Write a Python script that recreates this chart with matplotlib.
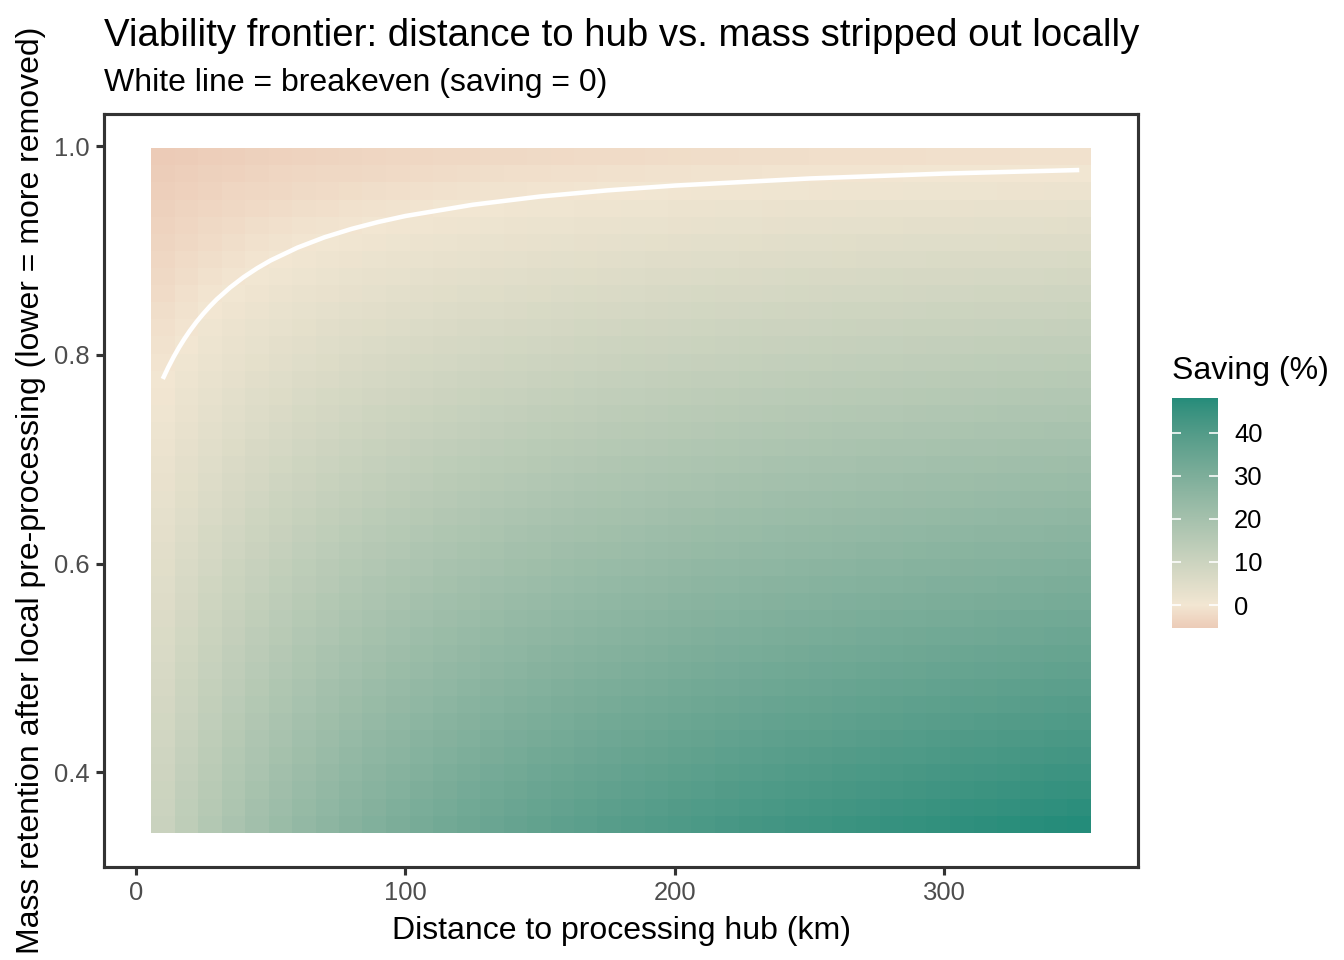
import numpy as np
import matplotlib
matplotlib.use("Agg")
import matplotlib.pyplot as plt
from matplotlib.colors import ListedColormap, Normalize

plt.rcParams['font.family'] = ['Liberation Sans', 'DejaVu Sans']

# --- data ---
distance_km = [10.0, 18.72, 27.44, 36.15, 44.87, 53.59, 62.31, 71.03, 79.74, 88.46,
               97.18, 105.9, 114.62, 123.33, 132.05, 140.77, 149.49, 158.21, 166.92, 175.64,
               184.36, 193.08, 201.79, 210.51, 219.23, 227.95, 236.67, 245.38, 254.1, 262.82,
               271.54, 280.26, 288.97, 297.69, 306.41, 315.13, 323.85, 332.56, 341.28, 350.0]

retention = [0.35, 0.3664, 0.3828, 0.3992, 0.4156, 0.4321, 0.4485, 0.4649, 0.4813, 0.4977,
             0.5141, 0.5305, 0.5469, 0.5633, 0.5797, 0.5962, 0.6126, 0.629, 0.6454, 0.6618,
             0.6782, 0.6946, 0.711, 0.7274, 0.7438, 0.7603, 0.7767, 0.7931, 0.8095, 0.8259,
             0.8423, 0.8587, 0.8751, 0.8915, 0.9079, 0.9244, 0.9408, 0.9572, 0.9736, 0.99]

# saving (%) : one row per distance, values from lowest to highest retention
saving_pct = [
    [10.6, 10.2, 9.8, 9.4, 9.0, 8.6, 8.2, 7.8, 7.4, 7.0, 6.5, 6.1, 5.7, 5.3, 4.9, 4.5, 4.1, 3.7, 3.3, 2.9, 2.5, 2.0, 1.6, 1.2, 0.8, 0.4, 0.0, -0.4, -0.8, -1.2, -1.6, -2.0, -2.4, -2.9, -3.3, -3.7, -4.1, -4.5, -4.9, -5.3],
    [13.5, 13.1, 12.6, 12.1, 11.6, 11.2, 10.7, 10.2, 9.7, 9.3, 8.8, 8.3, 7.8, 7.4, 6.9, 6.4, 5.9, 5.5, 5.0, 4.5, 4.0, 3.6, 3.1, 2.6, 2.1, 1.7, 1.2, 0.7, 0.2, -0.2, -0.7, -1.2, -1.7, -2.1, -2.6, -3.1, -3.5, -4.0, -4.5, -5.0],
    [16.2, 15.6, 15.1, 14.5, 14.0, 13.5, 12.9, 12.4, 11.9, 11.3, 10.8, 10.3, 9.7, 9.2, 8.7, 8.1, 7.6, 7.1, 6.5, 6.0, 5.5, 4.9, 4.4, 3.9, 3.3, 2.8, 2.3, 1.7, 1.2, 0.7, 0.1, -0.4, -0.9, -1.5, -2.0, -2.5, -3.1, -3.6, -4.1, -4.7],
    [18.5, 17.9, 17.3, 16.7, 16.2, 15.6, 15.0, 14.4, 13.8, 13.2, 12.6, 12.0, 11.5, 10.9, 10.3, 9.7, 9.1, 8.5, 7.9, 7.3, 6.8, 6.2, 5.6, 5.0, 4.4, 3.8, 3.2, 2.7, 2.1, 1.5, 0.9, 0.3, -0.3, -0.9, -1.5, -2.0, -2.6, -3.2, -3.8, -4.4],
    [20.6, 20.0, 19.4, 18.7, 18.1, 17.5, 16.8, 16.2, 15.6, 14.9, 14.3, 13.7, 13.0, 12.4, 11.7, 11.1, 10.5, 9.8, 9.2, 8.6, 7.9, 7.3, 6.7, 6.0, 5.4, 4.8, 4.1, 3.5, 2.8, 2.2, 1.6, 0.9, 0.3, -0.3, -1.0, -1.6, -2.2, -2.9, -3.5, -4.1],
    [22.6, 21.9, 21.2, 20.6, 19.9, 19.2, 18.5, 17.8, 17.2, 16.5, 15.8, 15.1, 14.4, 13.8, 13.1, 12.4, 11.7, 11.0, 10.4, 9.7, 9.0, 8.3, 7.6, 7.0, 6.3, 5.6, 4.9, 4.2, 3.6, 2.9, 2.2, 1.5, 0.8, 0.2, -0.5, -1.2, -1.9, -2.6, -3.2, -3.9],
    [24.4, 23.7, 22.9, 22.2, 21.5, 20.8, 20.1, 19.3, 18.6, 17.9, 17.2, 16.5, 15.7, 15.0, 14.3, 13.6, 12.9, 12.1, 11.4, 10.7, 10.0, 9.3, 8.5, 7.8, 7.1, 6.4, 5.7, 4.9, 4.2, 3.5, 2.8, 2.0, 1.3, 0.6, -0.1, -0.8, -1.6, -2.3, -3.0, -3.7],
    [26.0, 25.3, 24.5, 23.8, 23.0, 22.2, 21.5, 20.7, 20.0, 19.2, 18.5, 17.7, 16.9, 16.2, 15.4, 14.7, 13.9, 13.1, 12.4, 11.6, 10.9, 10.1, 9.4, 8.6, 7.8, 7.1, 6.3, 5.6, 4.8, 4.1, 3.3, 2.5, 1.8, 1.0, 0.3, -0.5, -1.3, -2.0, -2.8, -3.5],
    [27.5, 26.8, 26.0, 25.2, 24.4, 23.6, 22.8, 22.0, 21.2, 20.4, 19.6, 18.8, 18.0, 17.2, 16.5, 15.7, 14.9, 14.1, 13.3, 12.5, 11.7, 10.9, 10.1, 9.3, 8.5, 7.7, 6.9, 6.2, 5.4, 4.6, 3.8, 3.0, 2.2, 1.4, 0.6, -0.2, -1.0, -1.8, -2.6, -3.3],
    [28.9, 28.1, 27.3, 26.5, 25.7, 24.8, 24.0, 23.2, 22.4, 21.5, 20.7, 19.9, 19.1, 18.2, 17.4, 16.6, 15.8, 14.9, 14.1, 13.3, 12.5, 11.6, 10.8, 10.0, 9.2, 8.4, 7.5, 6.7, 5.9, 5.1, 4.2, 3.4, 2.6, 1.8, 0.9, 0.1, -0.7, -1.5, -2.4, -3.2],
    [30.2, 29.4, 28.5, 27.7, 26.8, 26.0, 25.1, 24.3, 23.4, 22.6, 21.7, 20.9, 20.0, 19.2, 18.3, 17.4, 16.6, 15.7, 14.9, 14.0, 13.2, 12.3, 11.5, 10.6, 9.8, 8.9, 8.1, 7.2, 6.4, 5.5, 4.6, 3.8, 2.9, 2.1, 1.2, 0.4, -0.5, -1.3, -2.2, -3.0],
    [31.5, 30.6, 29.7, 28.8, 27.9, 27.1, 26.2, 25.3, 24.4, 23.5, 22.6, 21.8, 20.9, 20.0, 19.1, 18.2, 17.4, 16.5, 15.6, 14.7, 13.8, 13.0, 12.1, 11.2, 10.3, 9.4, 8.6, 7.7, 6.8, 5.9, 5.0, 4.2, 3.3, 2.4, 1.5, 0.6, -0.3, -1.1, -2.0, -2.9],
    [32.6, 31.7, 30.8, 29.9, 29.0, 28.1, 27.1, 26.2, 25.3, 24.4, 23.5, 22.6, 21.7, 20.8, 19.9, 19.0, 18.1, 17.2, 16.3, 15.4, 14.5, 13.6, 12.6, 11.7, 10.8, 9.9, 9.0, 8.1, 7.2, 6.3, 5.4, 4.5, 3.6, 2.7, 1.8, 0.9, 0.0, -1.0, -1.9, -2.8],
    [33.6, 32.7, 31.8, 30.9, 29.9, 29.0, 28.1, 27.1, 26.2, 25.3, 24.3, 23.4, 22.5, 21.5, 20.6, 19.7, 18.8, 17.8, 16.9, 16.0, 15.0, 14.1, 13.2, 12.2, 11.3, 10.4, 9.5, 8.5, 7.6, 6.7, 5.7, 4.8, 3.9, 2.9, 2.0, 1.1, 0.2, -0.8, -1.7, -2.6],
    [34.6, 33.7, 32.7, 31.8, 30.8, 29.9, 28.9, 28.0, 27.0, 26.1, 25.1, 24.2, 23.2, 22.2, 21.3, 20.3, 19.4, 18.4, 17.5, 16.5, 15.6, 14.6, 13.7, 12.7, 11.8, 10.8, 9.9, 8.9, 8.0, 7.0, 6.0, 5.1, 4.1, 3.2, 2.2, 1.3, 0.3, -0.6, -1.6, -2.5],
    [35.6, 34.6, 33.6, 32.6, 31.7, 30.7, 29.7, 28.7, 27.8, 26.8, 25.8, 24.8, 23.9, 22.9, 21.9, 21.0, 20.0, 19.0, 18.0, 17.1, 16.1, 15.1, 14.1, 13.2, 12.2, 11.2, 10.2, 9.3, 8.3, 7.3, 6.3, 5.4, 4.4, 3.4, 2.5, 1.5, 0.5, -0.5, -1.4, -2.4],
    [36.4, 35.4, 34.4, 33.5, 32.5, 31.5, 30.5, 29.5, 28.5, 27.5, 26.5, 25.5, 24.5, 23.5, 22.5, 21.5, 20.5, 19.5, 18.5, 17.6, 16.6, 15.6, 14.6, 13.6, 12.6, 11.6, 10.6, 9.6, 8.6, 7.6, 6.6, 5.6, 4.6, 3.6, 2.7, 1.7, 0.7, -0.3, -1.3, -2.3],
    [37.3, 36.2, 35.2, 34.2, 33.2, 32.2, 31.2, 30.2, 29.2, 28.1, 27.1, 26.1, 25.1, 24.1, 23.1, 22.1, 21.1, 20.0, 19.0, 18.0, 17.0, 16.0, 15.0, 14.0, 13.0, 11.9, 10.9, 9.9, 8.9, 7.9, 6.9, 5.9, 4.9, 3.9, 2.8, 1.8, 0.8, -0.2, -1.2, -2.2],
    [38.0, 37.0, 36.0, 34.9, 33.9, 32.9, 31.9, 30.8, 29.8, 28.8, 27.7, 26.7, 25.7, 24.6, 23.6, 22.6, 21.6, 20.5, 19.5, 18.5, 17.4, 16.4, 15.4, 14.3, 13.3, 12.3, 11.3, 10.2, 9.2, 8.2, 7.1, 6.1, 5.1, 4.0, 3.0, 2.0, 1.0, -0.1, -1.1, -2.1],
    [38.8, 37.7, 36.7, 35.6, 34.6, 33.5, 32.5, 31.4, 30.4, 29.3, 28.3, 27.3, 26.2, 25.2, 24.1, 23.1, 22.0, 21.0, 19.9, 18.9, 17.8, 16.8, 15.7, 14.7, 13.7, 12.6, 11.6, 10.5, 9.5, 8.4, 7.4, 6.3, 5.3, 4.2, 3.2, 2.1, 1.1, 0.0, -1.0, -2.0],
    [39.5, 38.4, 37.3, 36.3, 35.2, 34.1, 33.1, 32.0, 31.0, 29.9, 28.8, 27.8, 26.7, 25.7, 24.6, 23.5, 22.5, 21.4, 20.3, 19.3, 18.2, 17.2, 16.1, 15.0, 14.0, 12.9, 11.8, 10.8, 9.7, 8.7, 7.6, 6.5, 5.5, 4.4, 3.3, 2.3, 1.2, 0.2, -0.9, -2.0],
    [40.1, 39.0, 38.0, 36.9, 35.8, 34.7, 33.7, 32.6, 31.5, 30.4, 29.3, 28.3, 27.2, 26.1, 25.0, 24.0, 22.9, 21.8, 20.7, 19.7, 18.6, 17.5, 16.4, 15.3, 14.3, 13.2, 12.1, 11.0, 10.0, 8.9, 7.8, 6.7, 5.7, 4.6, 3.5, 2.4, 1.3, 0.3, -0.8, -1.9],
    [40.7, 39.7, 38.6, 37.5, 36.4, 35.3, 34.2, 33.1, 32.0, 30.9, 29.8, 28.7, 27.6, 26.6, 25.5, 24.4, 23.3, 22.2, 21.1, 20.0, 18.9, 17.8, 16.7, 15.6, 14.6, 13.5, 12.4, 11.3, 10.2, 9.1, 8.0, 6.9, 5.8, 4.7, 3.6, 2.5, 1.5, 0.4, -0.7, -1.8],
    [41.3, 40.2, 39.1, 38.0, 36.9, 35.8, 34.7, 33.6, 32.5, 31.4, 30.3, 29.2, 28.1, 27.0, 25.9, 24.8, 23.7, 22.6, 21.5, 20.3, 19.2, 18.1, 17.0, 15.9, 14.8, 13.7, 12.6, 11.5, 10.4, 9.3, 8.2, 7.1, 6.0, 4.9, 3.8, 2.7, 1.6, 0.5, -0.6, -1.7],
    [41.9, 40.8, 39.7, 38.6, 37.4, 36.3, 35.2, 34.1, 33.0, 31.8, 30.7, 29.6, 28.5, 27.4, 26.3, 25.1, 24.0, 22.9, 21.8, 20.7, 19.6, 18.4, 17.3, 16.2, 15.1, 14.0, 12.8, 11.7, 10.6, 9.5, 8.4, 7.3, 6.1, 5.0, 3.9, 2.8, 1.7, 0.6, -0.6, -1.7],
    [42.5, 41.3, 40.2, 39.1, 37.9, 36.8, 35.7, 34.5, 33.4, 32.3, 31.2, 30.0, 28.9, 27.8, 26.6, 25.5, 24.4, 23.2, 22.1, 21.0, 19.9, 18.7, 17.6, 16.5, 15.3, 14.2, 13.1, 11.9, 10.8, 9.7, 8.6, 7.4, 6.3, 5.2, 4.0, 2.9, 1.8, 0.6, -0.5, -1.6],
    [43.0, 41.8, 40.7, 39.5, 38.4, 37.3, 36.1, 35.0, 33.8, 32.7, 31.5, 30.4, 29.3, 28.1, 27.0, 25.8, 24.7, 23.6, 22.4, 21.3, 20.1, 19.0, 17.8, 16.7, 15.6, 14.4, 13.3, 12.1, 11.0, 9.9, 8.7, 7.6, 6.4, 5.3, 4.2, 3.0, 1.9, 0.7, -0.4, -1.6],
    [43.5, 42.3, 41.2, 40.0, 38.8, 37.7, 36.5, 35.4, 34.2, 33.1, 31.9, 30.8, 29.6, 28.5, 27.3, 26.2, 25.0, 23.9, 22.7, 21.6, 20.4, 19.3, 18.1, 16.9, 15.8, 14.6, 13.5, 12.3, 11.2, 10.0, 8.9, 7.7, 6.6, 5.4, 4.3, 3.1, 2.0, 0.8, -0.3, -1.5],
    [43.9, 42.8, 41.6, 40.4, 39.3, 38.1, 36.9, 35.8, 34.6, 33.5, 32.3, 31.1, 30.0, 28.8, 27.6, 26.5, 25.3, 24.2, 23.0, 21.8, 20.7, 19.5, 18.3, 17.2, 16.0, 14.8, 13.7, 12.5, 11.4, 10.2, 9.0, 7.9, 6.7, 5.5, 4.4, 3.2, 2.0, 0.9, -0.3, -1.4],
    [44.4, 43.2, 42.0, 40.9, 39.7, 38.5, 37.3, 36.2, 35.0, 33.8, 32.6, 31.5, 30.3, 29.1, 27.9, 26.8, 25.6, 24.4, 23.3, 22.1, 20.9, 19.7, 18.6, 17.4, 16.2, 15.0, 13.9, 12.7, 11.5, 10.3, 9.2, 8.0, 6.8, 5.6, 4.5, 3.3, 2.1, 1.0, -0.2, -1.4],
    [44.8, 43.6, 42.4, 41.3, 40.1, 38.9, 37.7, 36.5, 35.3, 34.2, 33.0, 31.8, 30.6, 29.4, 28.2, 27.1, 25.9, 24.7, 23.5, 22.3, 21.1, 20.0, 18.8, 17.6, 16.4, 15.2, 14.0, 12.9, 11.7, 10.5, 9.3, 8.1, 6.9, 5.8, 4.6, 3.4, 2.2, 1.0, -0.2, -1.3],
    [45.2, 44.0, 42.8, 41.6, 40.5, 39.3, 38.1, 36.9, 35.7, 34.5, 33.3, 32.1, 30.9, 29.7, 28.5, 27.3, 26.1, 24.9, 23.8, 22.6, 21.4, 20.2, 19.0, 17.8, 16.6, 15.4, 14.2, 13.0, 11.8, 10.6, 9.4, 8.2, 7.1, 5.9, 4.7, 3.5, 2.3, 1.1, -0.1, -1.3],
    [45.6, 44.4, 43.2, 42.0, 40.8, 39.6, 38.4, 37.2, 36.0, 34.8, 33.6, 32.4, 31.2, 30.0, 28.8, 27.6, 26.4, 25.2, 24.0, 22.8, 21.6, 20.4, 19.2, 18.0, 16.8, 15.6, 14.4, 13.2, 12.0, 10.8, 9.6, 8.4, 7.2, 6.0, 4.8, 3.6, 2.4, 1.2, 0.0, -1.3],
    [46.0, 44.8, 43.6, 42.4, 41.2, 40.0, 38.7, 37.5, 36.3, 35.1, 33.9, 32.7, 31.5, 30.3, 29.1, 27.8, 26.6, 25.4, 24.2, 23.0, 21.8, 20.6, 19.4, 18.2, 17.0, 15.7, 14.5, 13.3, 12.1, 10.9, 9.7, 8.5, 7.3, 6.1, 4.8, 3.6, 2.4, 1.2, 0.0, -1.2],
    [46.4, 45.2, 43.9, 42.7, 41.5, 40.3, 39.1, 37.8, 36.6, 35.4, 34.2, 33.0, 31.7, 30.5, 29.3, 28.1, 26.9, 25.7, 24.4, 23.2, 22.0, 20.8, 19.6, 18.3, 17.1, 15.9, 14.7, 13.5, 12.2, 11.0, 9.8, 8.6, 7.4, 6.2, 4.9, 3.7, 2.5, 1.3, 0.1, -1.2],
    [46.7, 45.5, 44.3, 43.0, 41.8, 40.6, 39.4, 38.1, 36.9, 35.7, 34.5, 33.2, 32.0, 30.8, 29.5, 28.3, 27.1, 25.9, 24.6, 23.4, 22.2, 21.0, 19.7, 18.5, 17.3, 16.1, 14.8, 13.6, 12.4, 11.1, 9.9, 8.7, 7.5, 6.2, 5.0, 3.8, 2.6, 1.3, 0.1, -1.1],
    [47.1, 45.8, 44.6, 43.4, 42.1, 40.9, 39.7, 38.4, 37.2, 36.0, 34.7, 33.5, 32.3, 31.0, 29.8, 28.5, 27.3, 26.1, 24.8, 23.6, 22.4, 21.1, 19.9, 18.7, 17.4, 16.2, 15.0, 13.7, 12.5, 11.3, 10.0, 8.8, 7.6, 6.3, 5.1, 3.9, 2.6, 1.4, 0.2, -1.1],
    [47.4, 46.2, 44.9, 43.7, 42.4, 41.2, 39.9, 38.7, 37.5, 36.2, 35.0, 33.7, 32.5, 31.2, 30.0, 28.8, 27.5, 26.3, 25.0, 23.8, 22.6, 21.3, 20.1, 18.8, 17.6, 16.3, 15.1, 13.9, 12.6, 11.4, 10.1, 8.9, 7.6, 6.4, 5.2, 3.9, 2.7, 1.4, 0.2, -1.0],
    [47.7, 46.5, 45.2, 44.0, 42.7, 41.5, 40.2, 39.0, 37.7, 36.5, 35.2, 34.0, 32.7, 31.5, 30.2, 29.0, 27.7, 26.5, 25.2, 24.0, 22.7, 21.5, 20.2, 19.0, 17.7, 16.5, 15.2, 14.0, 12.7, 11.5, 10.2, 9.0, 7.7, 6.5, 5.2, 4.0, 2.7, 1.5, 0.2, -1.0],
    [48.0, 46.8, 45.5, 44.2, 43.0, 41.7, 40.5, 39.2, 38.0, 36.7, 35.5, 34.2, 32.9, 31.7, 30.4, 29.2, 27.9, 26.7, 25.4, 24.2, 22.9, 21.6, 20.4, 19.1, 17.9, 16.6, 15.4, 14.1, 12.8, 11.6, 10.3, 9.1, 7.8, 6.6, 5.3, 4.1, 2.8, 1.5, 0.3, -1.0],
]

# breakeven curve (saving = 0)
breakeven_km = [10, 12, 14, 16, 18, 20, 22.5, 25, 27.5, 30, 35, 40, 45, 50, 60, 70, 80, 90,
                100, 125, 150, 175, 200, 250, 300, 350]
breakeven_ret = [0.777, 0.7879, 0.7979, 0.807, 0.8153, 0.8229, 0.8316, 0.8394, 0.8466, 0.8532,
                 0.8647, 0.8746, 0.8831, 0.8906, 0.9029, 0.9128, 0.9208, 0.9275,
                 0.9332, 0.944, 0.9519, 0.9578, 0.9624, 0.9692, 0.9739, 0.9773]

low_col, mid_col, high_col = "#ECCBB7", "#F2E6D2", "#248C7A"


# --- Lab interpolation, like the R scales ---
WHITE = np.array([0.95047, 1.0, 1.08883])
M = np.array([[0.4124, 0.3576, 0.1805],
              [0.2126, 0.7152, 0.0722],
              [0.0193, 0.1192, 0.9505]])


def hex_to_lab(h):
    c = np.array([int(h[i:i + 2], 16) for i in (1, 3, 5)]) / 255.0
    lin = np.where(c <= 0.04045, c / 12.92, ((c + 0.055) / 1.055) ** 2.4)
    xyz = M @ lin / WHITE
    d = 6 / 29
    f = np.where(xyz > d ** 3, np.cbrt(xyz), xyz / (3 * d * d) + 4 / 29)
    return np.array([116 * f[1] - 16, 500 * (f[0] - f[1]), 200 * (f[1] - f[2])])


def lab_to_rgb(lab):
    fy = (lab[:, 0] + 16) / 116
    f = np.stack([fy + lab[:, 1] / 500, fy, fy - lab[:, 2] / 200], axis=1)
    d = 6 / 29
    xyz = np.where(f > d, f ** 3, 3 * d * d * (f - 4 / 29)) * WHITE
    lin = xyz @ np.linalg.inv(M).T
    lin = np.clip(lin, 0, 1)
    rgb = np.where(lin <= 0.0031308, 12.92 * lin, 1.055 * lin ** (1 / 2.4) - 0.055)
    return np.clip(rgb, 0, 1)


Z = np.array(saving_pct).T   # rows = retention, columns = distance
vmin, vmax = Z.min(), Z.max()
p0 = -vmin / (vmax - vmin)
t = np.linspace(0, 1, 512)[:, None]
lo, mi, hi = hex_to_lab(low_col), hex_to_lab(mid_col), hex_to_lab(high_col)
lab = np.where(t < p0, lo + (mi - lo) * (t / p0), mi + (hi - mi) * ((t - p0) / (1 - p0)))
cmap = ListedColormap(lab_to_rgb(lab))
norm = Normalize(vmin=vmin, vmax=vmax)

# --- figure, laid out in pixels ---
W, H = 1344, 960
fig = plt.figure(figsize=(7, 5), dpi=192)


def rect(l, t, r, b):
    return [l / W, 1 - b / H, (r - l) / W, (b - t) / H]


def px(x, y):
    return x / W, 1 - y / H


ax = fig.add_axes(rect(104, 114, 1138, 867))
mesh = ax.pcolormesh(distance_km, retention, Z, cmap=cmap, norm=norm,
                     shading='nearest', antialiased=False, linewidth=0)
ax.plot(breakeven_km, breakeven_ret, color='white', lw=1.7, solid_capstyle='butt')

d = np.array(distance_km)
r = np.array(retention)
x0, x1 = d[0] - (d[1] - d[0]) / 2, d[-1] + (d[-1] - d[-2]) / 2
y0, y1 = r[0] - (r[1] - r[0]) / 2, r[-1] + (r[-1] - r[-2]) / 2
ax.set_xlim(x0 - 0.05 * (x1 - x0), x1 + 0.05 * (x1 - x0))
ax.set_ylim(y0 - 0.05 * (y1 - y0), y1 + 0.05 * (y1 - y0))

ax.set_xticks([0, 100, 200, 300])
ax.set_yticks([0.4, 0.6, 0.8, 1.0])
ax.set_yticklabels(['0.4', '0.6', '0.8', '1.0'])
ax.tick_params(length=3, width=1.17, color='#333333', labelsize=9.6,
               labelcolor='#4D4D4D', pad=2.4)
for s in ax.spines.values():
    s.set_color('#333333')
    s.set_linewidth(1.17)

fig.text(*px(104, 46), "Viability frontier: distance to hub vs. mass stripped out locally",
         fontsize=14.4, ha='left', va='baseline')
fig.text(*px(104, 91), "White line = breakeven (saving = 0)",
         fontsize=12, ha='left', va='baseline')
fig.text(*px(621, 939), "Distance to processing hub (km)",
         fontsize=12, ha='center', va='baseline')
fig.text(*px(39, 490.5), "Mass retention after local pre-processing (lower = more removed)",
         fontsize=12, ha='center', va='baseline', rotation=90, rotation_mode='anchor')

# colour bar legend
cax = fig.add_axes(rect(1172, 398, 1218, 628))
cb = fig.colorbar(mesh, cax=cax)
cb.outline.set_visible(False)
cb.set_ticks([0, 10, 20, 30, 40])
cax.tick_params(length=0, labelsize=9.6, labelcolor='black', pad=6)
for v in [0, 10, 20, 30, 40]:
    cax.hlines(v, 0, 0.2, colors='white', lw=0.6, transform=cax.get_yaxis_transform())
    cax.hlines(v, 0.8, 1, colors='white', lw=0.6, transform=cax.get_yaxis_transform())
fig.text(*px(1172, 379), "Saving (%)", fontsize=12, ha='left', va='baseline')

fig.savefig("out.png", dpi=192)
